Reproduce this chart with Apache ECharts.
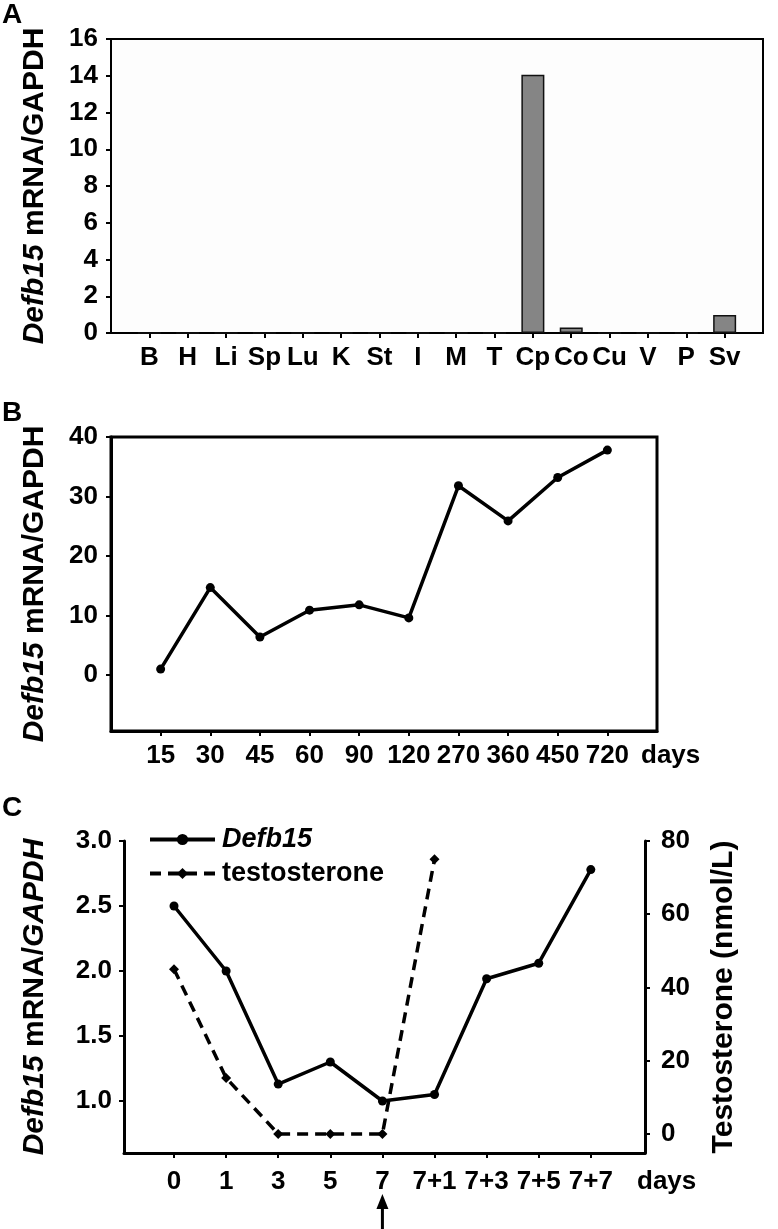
<!DOCTYPE html>
<html><head><meta charset="utf-8">
<script src="https://cdn.jsdelivr.net/npm/echarts@6/dist/echarts.min.js"></script>
<style>html,body{margin:0;padding:0;background:#fff}#c{width:778px;height:1229px}</style>
</head><body><div id="c"></div>
<script>
// ---- data ----
const tissueCategories = ['B','H','Li','Sp','Lu','K','St','I','M','T','Cp','Co','Cu','V','P','Sv'];
const tissueValues = [0,0,0,0,0,0,0,0,0,0,14.05,0.3,0,0,0,0.98];
const ageDays = ['15','30','45','60','90','120','270','360','450','720'];
const ageValues = [1.0,14.7,6.4,10.9,11.8,9.6,31.8,25.9,33.2,37.8];
const castrationDays = ['0','1','3','5','7','7+1','7+3','7+5','7+7'];
const defb15Values = [2.5,2.0,1.13,1.3,1.0,1.05,1.94,2.06,2.78];
const testosteroneValues = [45,15.3,0,0,0,75];
const ticksA = [0,2,4,6,8,10,12,14,16];
const ticksB = [0,10,20,30,40];
const ticksCLeft = [1.0,1.5,2.0,2.5,3.0];
const ticksCRight = [0,20,40,60,80];

const FONT = '"Liberation Sans", Arial, sans-serif';
const idx = arr => arr.map((_, i) => i);
const pairs = arr => arr.map((v, i) => [i, v]);

const lbl = (extra) => Object.assign({fontSize:26, fontWeight:'bold', color:'#000', fontFamily:FONT}, extra);
const line = w => ({show:true, onZero:false, lineStyle:{color:'#000', width:w}});
const tick = (w, vals) => ({show:true, length:5, customValues:vals, lineStyle:{color:'#000', width:w}});
const nameStyle = {fontSize:30, fontWeight:'bold', color:'#000', fontFamily:FONT,
  rich:{i:{fontSize:30, fontWeight:'bold', fontStyle:'italic', color:'#000', fontFamily:FONT}}};
const panelLabels = [
  {type:'text', left:2, top:1, style:{text:'A', font:'bold 28px ' + FONT, fill:'#000'}},
  {type:'text', left:2, top:399, style:{text:'B', font:'bold 28px ' + FONT, fill:'#000'}},
  {type:'text', left:2, top:794, style:{text:'C', font:'bold 28px ' + FONT, fill:'#000'}}
];

const chart = echarts.init(document.getElementById('c'), null, {renderer:'canvas'});
const option = {
  backgroundColor:'#fff',
  animation:false,
  grid:[
    {left:111, top:39, width:652, height:294, show:true, borderColor:'#000', borderWidth:2, backgroundColor:'#fdfdfd', outerBoundsMode:'none'},
    {left:111, top:437, width:546, height:294, show:true, borderColor:'#000', borderWidth:3, backgroundColor:'#fff', outerBoundsMode:'none'},
    {left:124, top:841, width:521, height:312, show:false, outerBoundsMode:'none'}
  ],
  xAxis:[
    {gridIndex:0, type:'value', min:-1, max:16, axisLine:line(2), splitLine:{show:false},
     axisTick:tick(2, idx(tissueCategories)),
     axisLabel:lbl({margin:12, customValues:idx(tissueCategories), formatter:v=>tissueCategories[Math.round(v)]})},
    {gridIndex:1, type:'value', min:-1, max:10, axisLine:line(3), splitLine:{show:false},
     axisTick:tick(2, idx(ageDays)),
     axisLabel:lbl({margin:12, customValues:idx(ageDays), formatter:v=>ageDays[Math.round(v)]}),
     name:'days', nameLocation:'end', nameGap:-16,
     nameTextStyle:lbl({verticalAlign:'top', padding:[12,0,0,0]})},
    {gridIndex:2, type:'value', min:-0.96, max:9.04, axisLine:line(3), splitLine:{show:false},
     axisTick:tick(2, idx(castrationDays)),
     axisLabel:lbl({margin:16, customValues:idx(castrationDays), formatter:v=>castrationDays[Math.round(v)]}),
     name:'days', nameLocation:'end', nameGap:-8,
     nameTextStyle:lbl({verticalAlign:'top', padding:[16,0,0,0]})}
  ],
  yAxis:[
    {gridIndex:0, type:'value', min:0, max:16, interval:2, axisLine:line(2), splitLine:{show:false},
     axisTick:tick(2, ticksA), axisLabel:lbl({margin:13, customValues:ticksA}),
     name:'{i|Defb15} mRNA/GAPDH', nameLocation:'middle', nameGap:61, nameTextStyle:nameStyle},
    {gridIndex:1, type:'value', min:-9.4, max:40, axisLine:line(3), splitLine:{show:false},
     axisTick:tick(2, ticksB), axisLabel:lbl({margin:13, customValues:ticksB}),
     name:'{i|Defb15} mRNA/GAPDH', nameLocation:'middle', nameGap:61, nameTextStyle:nameStyle},
    {gridIndex:2, type:'value', min:0.6, max:3.0, axisLine:line(3), splitLine:{show:false},
     axisTick:tick(2, ticksCLeft), axisLabel:lbl({margin:12, customValues:ticksCLeft, formatter:v=>v.toFixed(1)}),
     name:'{i|Defb15} mRNA/{i|GAPDH}', nameLocation:'middle', nameGap:74, nameTextStyle:nameStyle},
    {gridIndex:2, type:'value', position:'right', min:-5.2, max:80, axisLine:line(3), splitLine:{show:false},
     axisTick:tick(2, ticksCRight), axisLabel:lbl({margin:16, customValues:ticksCRight}),
     name:'Testosterone (nmol/L)', nameLocation:'middle', nameGap:64, nameTextStyle:nameStyle}
  ],
  legend:{
    data:['Defb15','testosterone'], orient:'vertical', left:143, top:820,
    itemWidth:65, itemHeight:14, itemGap:5,
    lineStyle:{width:4},
    formatter:n => n === 'Defb15' ? '{i|Defb15}' : n,
    textStyle:{fontSize:27, fontWeight:'bold', color:'#000', fontFamily:FONT, lineHeight:29, padding:[0,0,0,2],
      rich:{i:{fontSize:27, fontWeight:'bold', fontStyle:'italic', color:'#000', fontFamily:FONT, lineHeight:29}}}
  },
  series:[
    {type:'bar', xAxisIndex:0, yAxisIndex:0, data:pairs(tissueValues), barWidth:23,
     itemStyle:{color:'#858585', borderColor:'#111', borderWidth:1.5}},
    {type:'line', xAxisIndex:1, yAxisIndex:1, data:pairs(ageValues), symbol:'circle', symbolSize:9,
     lineStyle:{color:'#000', width:3.5}, itemStyle:{color:'#000'}},
    {name:'Defb15', type:'line', xAxisIndex:2, yAxisIndex:2, data:pairs(defb15Values), symbol:'circle', symbolSize:9,
     lineStyle:{color:'#000', width:3.5}, itemStyle:{color:'#000'}},
    {name:'testosterone', type:'line', xAxisIndex:2, yAxisIndex:3, data:pairs(testosteroneValues), symbol:'diamond', symbolSize:10,
     lineStyle:{color:'#000', width:3.5, type:[11,7]}, itemStyle:{color:'#000'}}
  ],
  graphic:panelLabels
};
chart.setOption(option);
// arrow marking day 7, positioned through the axis scale
const ax = chart.convertToPixel({xAxisIndex:2}, castrationDays.indexOf('7'));
chart.setOption({graphic:panelLabels.concat([
  {type:'line', shape:{x1:ax, y1:1206, x2:ax, y2:1229}, style:{stroke:'#000', lineWidth:3}},
  {type:'polygon', shape:{points:[[ax,1194],[ax-6,1209],[ax+6,1209]]}, style:{fill:'#000'}}
])});
</script>
</body></html>
